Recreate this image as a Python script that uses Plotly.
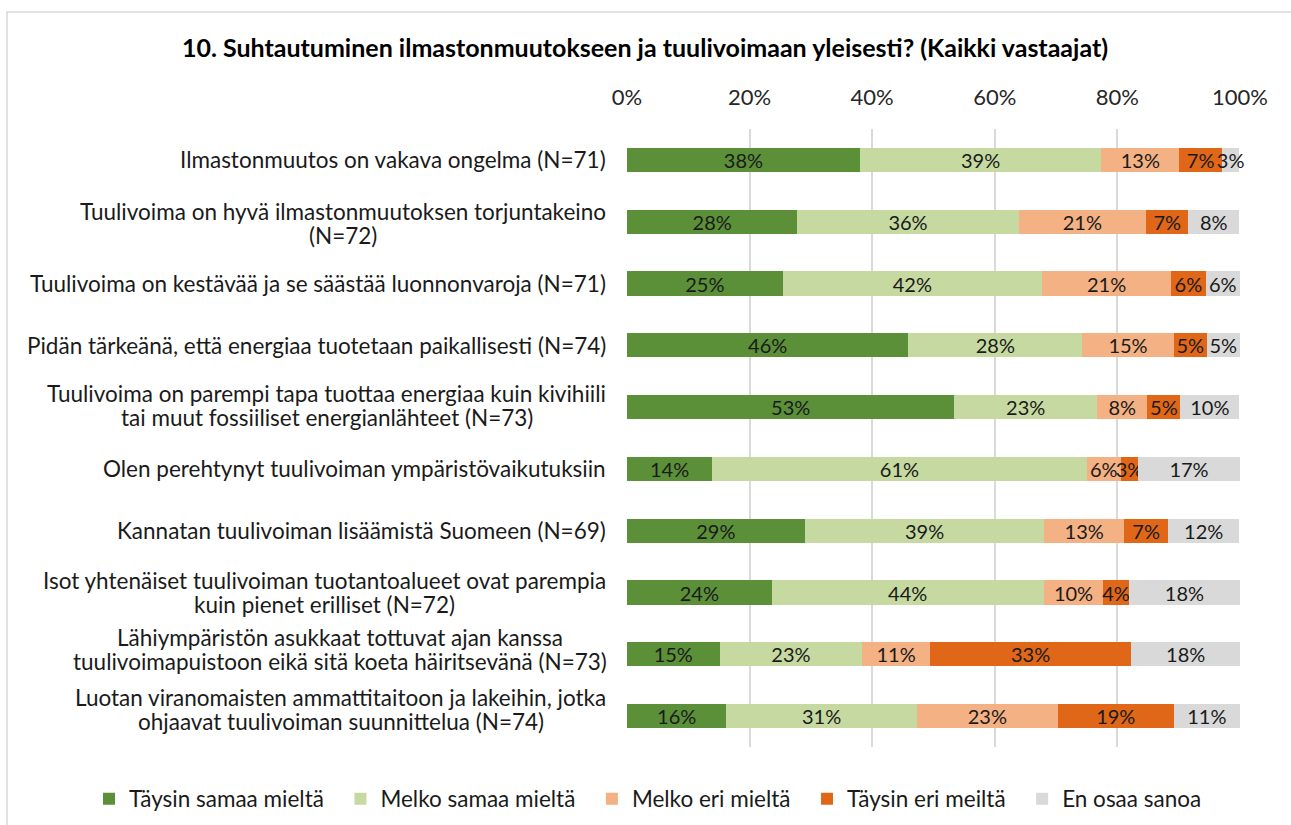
import plotly.graph_objects as go

categories = [
    "Ilmastonmuutos on vakava ongelma (N=71)",
    "Tuulivoima on hyvä ilmastonmuutoksen torjuntakeino<br>(N=72)",
    "Tuulivoima on kestävää ja se säästää luonnonvaroja (N=71)",
    "Pidän tärkeänä, että energiaa tuotetaan paikallisesti (N=74)",
    "Tuulivoima on parempi tapa tuottaa energiaa kuin kivihiili<br>tai muut fossiiliset energianlähteet (N=73)",
    "Olen perehtynyt tuulivoiman ympäristövaikutuksiin",
    "Kannatan tuulivoiman lisäämistä Suomeen (N=69)",
    "Isot yhtenäiset tuulivoiman tuotantoalueet ovat parempia<br>kuin pienet erilliset (N=72)",
    "Lähiympäristön asukkaat tottuvat ajan kanssa<br>tuulivoimapuistoon eikä sitä koeta häiritsevänä (N=73)",
    "Luotan viranomaisten ammattitaitoon ja lakeihin, jotka<br>ohjaavat tuulivoiman suunnittelua (N=74)",
]

series_names = ["Täysin samaa mieltä", "Melko samaa mieltä", "Melko eri mieltä",
                "Täysin eri meiltä", "En osaa sanoa"]

taysin_samaa = [38.0, 27.8, 25.4, 45.9, 53.4, 13.9, 29.0, 23.6, 15.1, 16.2]
melko_samaa = [39.4, 36.1, 42.3, 28.4, 23.3, 61.1, 39.1, 44.4, 23.3, 31.1]
melko_eri = [12.7, 20.8, 21.1, 14.9, 8.2, 5.6, 13.0, 9.7, 11.0, 23.0]
taysin_eri = [7.0, 6.9, 5.6, 5.4, 5.4, 2.8, 7.2, 4.2, 32.9, 18.9]
en_osaa = [2.8, 8.3, 5.6, 5.4, 9.6, 16.6, 11.6, 18.1, 17.7, 10.8]

tick_vals = [0, 20, 40, 60, 80, 100]
tick_text = ["0%", "20%", "40%", "60%", "80%", "100%"]

colors = ["#5B9039", "#C5D9A0", "#F4B183", "#E06717", "#D9D9D9"]
values = [taysin_samaa, melko_samaa, melko_eri, taysin_eri, en_osaa]

# layout helpers for the category labels:
# vertical offset (px, downward) of each label's centre relative to its bar
label_center_offsets = [0, 2, 0, 0, -2, 0, 0, 0, -5, -7]
# horizontal centre (px) of two-line labels (centre of their longest line)
label_line_centers = [None, 343, None, None, 326.5, None, None, 324.5, 339.5, 340.5]

FONT = "Lato"
LABEL_SIZE = 22.5
RIGHT_EDGE = 608
W, H = 1291, 825
L, R, T, B = 627, 51, 129, 78
pw = W - L - R
ph = H - T - B

fig = go.Figure()
for name, vals, col in zip(series_names, values, colors):
    fig.add_trace(go.Bar(
        y=categories, x=vals, name=name + "\u00a0\u00a0",
        orientation="h",
        marker=dict(color=col, line=dict(width=0)),
        text=[f"{round(v):.0f}%" for v in vals],
        textposition="inside", insidetextanchor="middle", textangle=0,
        textfont=dict(family=FONT, size=20, color="#1a1a1a"),
        constraintext="none", cliponaxis=False,
        hoverinfo="x+y",
    ))

for c, off, cx in zip(categories, label_center_offsets, label_line_centers):
    lines = c.split("<br>")
    common = dict(xref="paper", y=c, yref="y", showarrow=False, yanchor="middle",
                  font=dict(family=FONT, size=LABEL_SIZE, color="#1a1a1a"))
    if len(lines) == 1:
        fig.add_annotation(text=c, x=(RIGHT_EDGE - L) / pw, xanchor="right",
                           yshift=-off, **common)
    else:
        for i, ln in enumerate(lines):
            fig.add_annotation(text=ln, x=(cx - L) / pw, xanchor="center",
                               yshift=-(off - 12 + 24 * i), **common)

fig.update_layout(
    width=W, height=H,
    margin=dict(l=L, r=R, t=T, b=B, autoexpand=False),
    barmode="stack", bargap=0.61,
    plot_bgcolor="white", paper_bgcolor="white",
    uniformtext=dict(minsize=20, mode="show"),
    title=dict(text="<b>10. Suhtautuminen ilmastonmuutokseen ja tuulivoimaan yleisesti? (Kaikki vastaajat)</b>",
               x=645 / W, xanchor="center", y=1 - 48 / H, yanchor="middle",
               font=dict(family=FONT, size=25, color="#000000")),
    xaxis=dict(side="top", range=[0, 100.02], tickvals=tick_vals, ticktext=tick_text,
               showgrid=True, gridcolor="#D9D9D9", gridwidth=1.5, zeroline=False,
               showline=False, ticks="", ticklabelstandoff=19, automargin=False,
               tickfont=dict(family=FONT, size=22, color="#262626")),
    yaxis=dict(categoryorder="array", categoryarray=categories,
               range=[len(categories) - 0.5, -0.5], autorange=False, automargin=False,
               showticklabels=False, showgrid=False, zeroline=False, showline=False),
    legend=dict(orientation="h", xref="paper", yref="paper",
                x=(89 - L) / pw, xanchor="left", y=1 - (799 - T) / ph, yanchor="middle",
                font=dict(family=FONT, size=22.5, color="#1a1a1a"), traceorder="normal",
                itemwidth=30),
    showlegend=True,
)

# outer chart border
fig.add_shape(type="rect", xref="paper", yref="paper",
              x0=(7 - L) / pw, x1=(1300 - L) / pw,
              y0=1 - (840 - T) / ph, y1=1 - (12 - T) / ph,
              line=dict(color="#D9D9D9", width=1.5), fillcolor="rgba(0,0,0,0)", layer="below")

fig.write_html("out.html", config={"displayModeBar": False},
               post_script="document.body.style.margin='0';")
